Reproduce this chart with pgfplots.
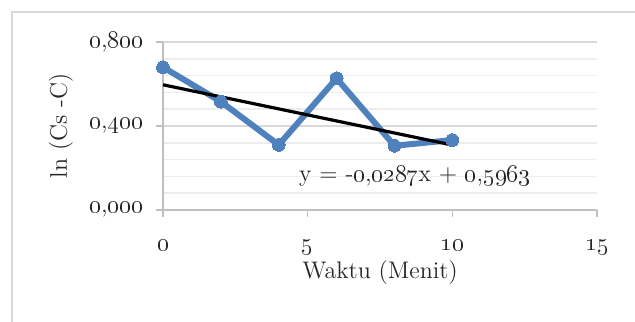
\documentclass[border=0pt]{standalone}
\usepackage{pgfplots}
\pgfplotsset{compat=1.18}
\definecolor{serblue}{HTML}{4F81BD}
\definecolor{gridc}{HTML}{D9D9D9}
\definecolor{minorc}{HTML}{EDEDED}
\definecolor{axc}{HTML}{BFBFBF}
\definecolor{txt}{HTML}{262626}
\newcommand{\os}[1]{\mbox{\oldstylenums{#1}}}
\begin{document}
\begin{tikzpicture}[font=\fontsize{12}{14}\selectfont, text=txt]
\useasboundingbox (-81.5pt,-55.5pt) rectangle (236pt,105pt);
\draw[gridc, line width=0.9pt] (-75.5pt,-56pt) -- (-75.5pt,99pt) -- (237pt,99pt);
\begin{axis}[
  at={(0,0)}, anchor=origin,
  scale only axis, width=217pt, height=84pt,
  xmin=0, xmax=15, ymin=0, ymax=0.8,
  axis x line=bottom, axis y line=left,
  axis line style={-, axc, line width=0.8pt},
  xtick={0,5,10,15},
  xticklabels={\os{0},\os{5},\os{10},\os{15}},
  ytick={0,0.4,0.8},
  yticklabels={{\os{0},\os{000}},{\os{0},\os{400}},{\os{0},\os{800}}},
  minor ytick={0.08,0.16,0.24,0.32,0.48,0.56,0.64,0.72},
  ymajorgrids, yminorgrids,
  major grid style={gridc, line width=0.8pt},
  minor grid style={minorc, line width=0.8pt},
  tick align=outside,
  major tick length=3.5pt, minor tick length=0pt,
  tick style={axc, line width=0.8pt},
  xticklabel style={yshift=-8pt},
  yticklabel style={xshift=-3pt},
  xlabel={Waktu (Menit)},
  ylabel={ln (Cs -C)},
  xlabel style={at={(axis description cs:0.5,0)}, anchor=center, yshift=-31.5pt},
  ylabel style={at={(axis description cs:-0.235,0.5)}, anchor=center, rotate=0},
  clip=false,
]
\addplot[serblue, line width=3pt, mark=*, mark size=3.2pt, mark options={fill=serblue, draw=serblue, line width=0pt}]
  coordinates {(0,0.680) (2,0.516) (4,0.310) (6,0.627) (8,0.306) (10,0.333)};
\addplot[black, line width=1.6pt] coordinates {(0,0.5963) (10,0.3093)};
\node[anchor=center, text=txt] at (axis cs:8.7,0.162) {y = -\os{0},\os{0287}x + \os{0},\os{5963}};
\end{axis}
\end{tikzpicture}
\end{document}
